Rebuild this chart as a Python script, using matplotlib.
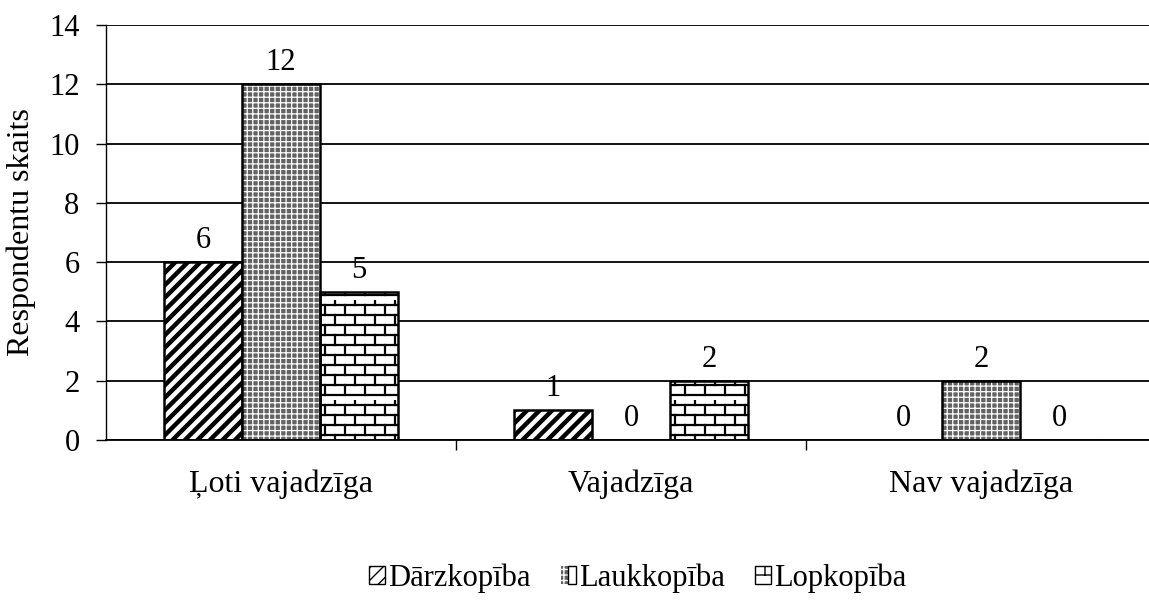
import numpy as np
import matplotlib
matplotlib.use("Agg")
import matplotlib.pyplot as plt
import matplotlib.hatch as mhatch
from matplotlib.path import Path
from matplotlib.patches import Patch
from matplotlib.legend_handler import HandlerTuple

categories = ["Ļoti vajadzīga", "Vajadzīga", "Nav vajadzīga"]
series_names = ["Dārzkopība", "Laukkopība", "Lopkopība"]
darzkopiba = [6, 1, 0]
laukkopiba = [12, 0, 2]
lopkopiba = [5, 2, 0]
y_ticks = [0, 2, 4, 6, 8, 10, 12, 14]


class DiagHatch(mhatch.HatchPatternBase):
    """Dense thick diagonal stripes ('D')."""
    def __init__(self, hatch, density):
        self.n = 8 if 'D' in hatch else 0
        self.num_vertices = (2 * self.n + 1) * 2 if self.n else 0

    def set_vertices_and_codes(self, vertices, codes):
        c = np.arange(-self.n, self.n + 1) / self.n
        vertices[0::2, 0] = c
        vertices[0::2, 1] = 0.0
        vertices[1::2, 0] = 1.0 + c
        vertices[1::2, 1] = 1.0
        codes[0::2] = Path.MOVETO
        codes[1::2] = Path.LINETO


class BrickHatch(mhatch.HatchPatternBase):
    """Brick wall pattern ('B')."""
    def __init__(self, hatch, density):
        self.rows = 10 if 'B' in hatch else 0
        self.cols = 5
        self.num_vertices = self.rows * (2 + 2 * self.cols)

    def set_vertices_and_codes(self, vertices, codes):
        h = 1.0 / self.rows
        w = 1.0 / self.cols
        i = 0
        for r in range(self.rows):
            y0 = r * h + h / 2
            vertices[i] = (0, y0); codes[i] = Path.MOVETO; i += 1
            vertices[i] = (1, y0); codes[i] = Path.LINETO; i += 1
            off = w / 4 if r % 2 == 0 else 3 * w / 4
            for c in range(self.cols):
                x = off + c * w
                vertices[i] = (x, y0); codes[i] = Path.MOVETO; i += 1
                vertices[i] = (x, y0 + h); codes[i] = Path.LINETO; i += 1


mhatch._hatch_types.append(DiagHatch)
mhatch._hatch_types.append(BrickHatch)

plt.rcParams['font.family'] = ['Liberation Serif', 'DejaVu Serif']
FS_NUM = 22
FS_TXT = 23

fig = plt.figure(figsize=(11.49, 6.15), dpi=100)
ax = fig.add_axes([106 / 1149, 1 - 440 / 615, 1050 / 1149, 415 / 615])

x = np.arange(len(categories))
bw = 78 / 350
offsets = [-bw, 0, bw]


def set_hlw(patches, lw):
    for p in patches:
        if hasattr(p, 'set_hatch_linewidth'):
            p.set_hatch_linewidth(lw)


b1 = ax.bar(x + offsets[0], darzkopiba, bw, facecolor='white', edgecolor='black',
            linewidth=1.8, hatch='D', zorder=3)
set_hlw(b1, 3.2)
b2a = ax.bar(x + offsets[1], laukkopiba, bw, facecolor='#626262', edgecolor='white',
             linewidth=0, hatch='+++', zorder=3)
set_hlw(b2a, 0.9)
b2b = ax.bar(x + offsets[1], laukkopiba, bw, fill=False, edgecolor='black',
             linewidth=1.8, zorder=4)
b3 = ax.bar(x + offsets[2], lopkopiba, bw, facecolor='white', edgecolor='black',
            linewidth=1.8, hatch='B', zorder=3)
set_hlw(b3, 1.6)

for vals, off in zip([darzkopiba, laukkopiba, lopkopiba], offsets):
    for xi, v in zip(x, vals):
        ax.annotate(str(v), (xi + off, v), xytext=(0, 10), textcoords='offset points',
                    ha='center', va='baseline', fontsize=FS_NUM)

ax.set_ylim(0, 14)
ax.set_xlim(-0.5, 2.5)
ax.set_yticks(y_ticks)
ax.set_yticklabels([str(t) for t in y_ticks], fontsize=FS_NUM)
ax.yaxis.grid(True, color='black', linewidth=1.3, zorder=0)
ax.set_axisbelow(True)
ax.tick_params(axis='y', length=7, width=1, pad=12, color='black')

ax.set_xticks(x)
ax.set_xticklabels(categories, fontsize=FS_TXT)
ax.set_xticks([0.5, 1.5, 2.5], minor=True)
ax.tick_params(axis='x', which='major', length=0, pad=21)
ax.tick_params(axis='x', which='minor', length=7, width=1, color='black')

for s in ['top', 'right']:
    ax.spines[s].set_visible(False)
ax.spines['left'].set_color('black')
ax.spines['left'].set_linewidth(1)
ax.spines['bottom'].set_color('black')
ax.spines['bottom'].set_linewidth(1.3)
ax.spines['bottom'].set_zorder(5)

ax.set_ylabel("Respondentu skaits", fontsize=FS_TXT)
ax.yaxis.set_label_coords(-70 / 1050, 0.5)

h1 = Patch(facecolor='white', edgecolor='black', hatch='D', linewidth=1)
h2a = Patch(facecolor='#626262', edgecolor='white', hatch='+++', linewidth=0)
h2b = Patch(fill=False, edgecolor='black', linewidth=1)
h3 = Patch(facecolor='white', edgecolor='black', hatch='B', linewidth=1)
fig.legend([h1, (h2a, h2b), h3], series_names, loc='center',
           bbox_to_anchor=(0.555, 0.06), ncol=3, frameon=False, fontsize=22,
           handlelength=0.5, handleheight=0.5, handletextpad=0.1, columnspacing=1.0,
           handler_map={tuple: HandlerTuple(ndivide=None, pad=0)})

fig.savefig('out.png', dpi=100)
